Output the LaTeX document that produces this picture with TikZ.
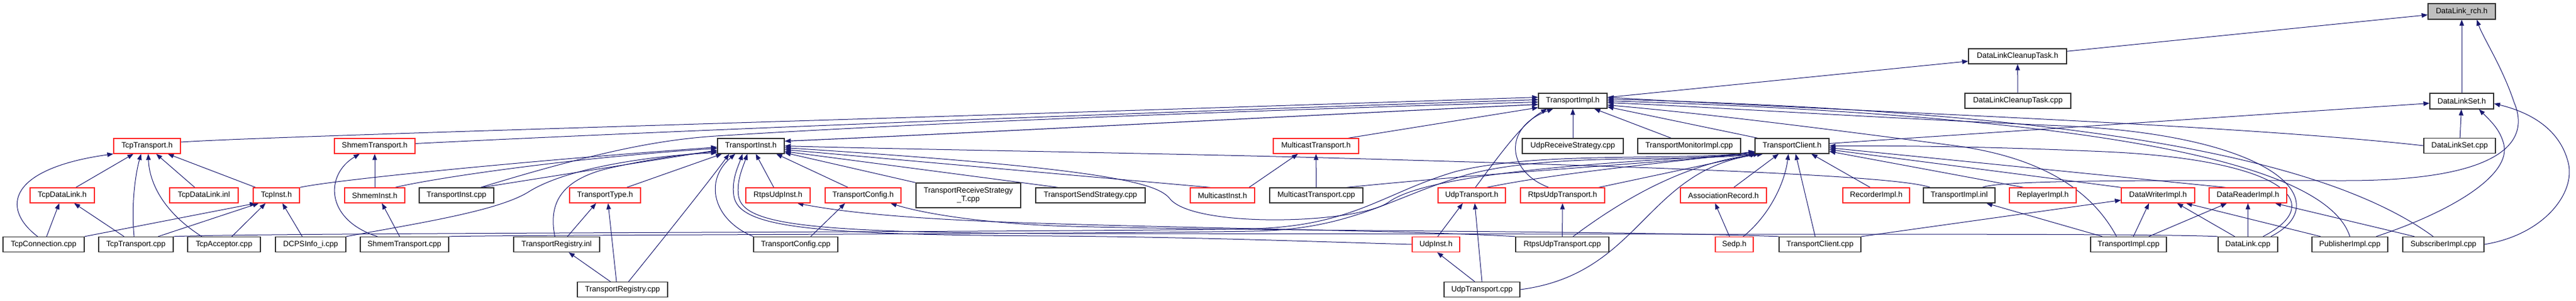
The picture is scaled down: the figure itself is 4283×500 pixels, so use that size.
\documentclass[tikz,border=0pt]{standalone}
\usepackage{fontspec}
\setmainfont{Liberation Sans}
\usetikzlibrary{arrows.meta,calc}
\definecolor{eblue}{RGB}{25,25,112}
\definecolor{bred}{RGB}{255,40,40}
\definecolor{bblk}{RGB}{50,50,50}
\definecolor{gfill}{RGB}{191,191,191}
\pgfdeclarelayer{edges}
\pgfsetlayers{edges,main}
\begin{document}
\begin{tikzpicture}[x=1pt,y=-1pt,
  bx/.style={draw=bblk, line width=1.3pt, fill=white, inner sep=0pt, minimum height=25, font=\fontsize{12.8}{14}\selectfont},
  rbx/.style={bx, draw=bred},
  ed/.style={draw=eblue, line width=1pt, arrows={-Triangle[length=10pt,width=7.5pt]}},
  edd/.style={draw=eblue, line width=1.2pt, arrows={Triangle[length=10pt,width=7.5pt]-Triangle[length=10pt,width=7.5pt]}}]
\useasboundingbox (0,0) rectangle (4283,500);
% rank 0-2
\node[bx, fill=gfill, minimum width=112, minimum height=26] (rch) at (4093,19) {DataLink\_rch.h};
\node[bx, minimum width=163] (dlctH) at (3354.5,93.5) {DataLinkCleanupTask.h};
\node[bx, minimum width=114] (timplH) at (2615,167.5) {TransportImpl.h};
\node[bx, minimum width=176] (dlctCpp) at (3355,167.5) {DataLinkCleanupTask.cpp};
\node[bx, minimum width=106, minimum height=26] (dlsH) at (4093,168) {DataLinkSet.h};
% rank 3
\node[rbx, minimum width=111] (tcpTH) at (244.5,242.5) {TcpTransport.h};
\node[rbx, minimum width=134] (shmTH) at (623,242.5) {ShmemTransport.h};
\node[bx, minimum width=111] (tinstH) at (1248.5,242.5) {TransportInst.h};
\node[rbx, minimum width=142] (mcTH) at (2188,242.5) {MulticastTransport.h};
\node[bx, minimum width=168] (udpRS) at (2615,242.5) {UdpReceiveStrategy.cpp};
\node[bx, minimum width=171] (tmon) at (2808.5,242.5) {TransportMonitorImpl.cpp};
\node[bx, minimum width=123] (tclH) at (2979.5,242.5) {TransportClient.h};
\node[bx, minimum width=119] (dlsCpp) at (4089.5,242) {DataLinkSet.cpp};
% rank 4
\node[rbx, minimum width=107] (tcpDLH) at (103.5,324.5) {TcpDataLink.h};
\node[rbx, minimum width=114] (tcpDLinl) at (339,324.5) {TcpDataLink.inl};
\node[rbx, minimum width=77] (tcpInstH) at (459.5,324.5) {TcpInst.h};
\node[rbx, minimum width=100] (shmInstH) at (623,324.5) {ShmemInst.h};
\node[bx, minimum width=124] (tinstCpp) at (759,324.5) {TransportInst.cpp};
\node[rbx, minimum width=118] (ttypeH) at (1006,324.5) {TransportType.h};
\node[rbx, minimum width=107] (rtpsInstH) at (1293.5,324.5) {RtpsUdpInst.h};
\node[rbx, minimum width=126] (tcfgH) at (1435,324.5) {TransportConfig.h};
\node[bx, minimum width=174, minimum height=41, align=center] (trs) at (1610,324.5) {TransportReceiveStrategy\\\_T.cpp};
\node[bx, minimum width=182] (tss) at (1813,324.5) {TransportSendStrategy.cpp};
\node[rbx, minimum width=107] (mcInstH) at (2032.5,324.5) {MulticastInst.h};
\node[bx, minimum width=155] (mcTCpp) at (2188.5,324.5) {MulticastTransport.cpp};
\node[rbx, minimum width=112] (udpTH) at (2447,324.5) {UdpTransport.h};
\node[rbx, minimum width=140] (rtpsTH) at (2598,324.5) {RtpsUdpTransport.h};
\node[rbx, minimum width=143] (assocH) at (2865.5,324.5) {AssociationRecord.h};
\node[rbx, minimum width=111] (recH) at (3119.5,324.5) {RecorderImpl.h};
\node[bx, minimum width=119] (timplInl) at (3257.5,324.5) {TransportImpl.inl};
\node[rbx, minimum width=111] (repH) at (3396.5,324.5) {ReplayerImpl.h};
\node[rbx, minimum width=122] (dwH) at (3588,324.5) {DataWriterImpl.h};
\node[rbx, minimum width=129] (drH) at (3737.5,324.5) {DataReaderImpl.h};
% rank 5
\node[bx, minimum width=135] (tcpConn) at (72.5,406) {TcpConnection.cpp};
\node[bx, minimum width=124] (tcpTCpp) at (226,406) {TcpTransport.cpp};
\node[bx, minimum width=121] (tcpAcc) at (372.5,406) {TcpAcceptor.cpp};
\node[bx, minimum width=117] (dcps) at (516.5,406) {DCPSInfo\_i.cpp};
\node[bx, minimum width=147] (shmTCpp) at (672.5,406) {ShmemTransport.cpp};
\node[bx, minimum width=143] (tregInl) at (925.5,406) {TransportRegistry.inl};
\node[bx, minimum width=140] (tcfgCpp) at (1323,406) {TransportConfig.cpp};
\node[rbx, minimum width=79] (udpInstH) at (2387.5,406) {UdpInst.h};
\node[bx, minimum width=155] (rtpsTCpp) at (2597.5,406) {RtpsUdpTransport.cpp};
\node[rbx, minimum width=63] (sedpH) at (2883.5,406) {Sedp.h};
\node[bx, minimum width=136] (tclCpp) at (3026,406) {TransportClient.cpp};
\node[bx, minimum width=126] (timplCpp) at (3539,406) {TransportImpl.cpp};
\node[bx, minimum width=99] (dlCpp) at (3737.5,406) {DataLink.cpp};
\node[bx, minimum width=126] (pubCpp) at (3907,406) {PublisherImpl.cpp};
\node[bx, minimum width=135] (subCpp) at (4062.5,406) {SubscriberImpl.cpp};
% rank 6
\node[bx, minimum width=150] (tregCpp) at (1035,481) {TransportRegistry.cpp};
\node[bx, minimum width=126] (udpTCpp) at (2464,481) {UdpTransport.cpp};

\begin{pgfonlayer}{edges}
% top part
\draw[ed] (dlctH) -- (rch);
\draw[ed] (dlsH) -- (rch);
\draw[ed] ($(timplInl.north east)+(-22,0)$) .. controls (3330,298) and (3600,300) .. (3900,300) .. controls (4150,300) and (4210,240) .. (4180,170) .. controls (4160,110) and (4128,62) .. ($(rch.south)+(25,0)$);
\draw[ed] (timplH) -- (dlctH);
\draw[ed] (dlctCpp) -- (dlctH);
\draw[ed] (tclH) -- (dlsH);
\draw[ed] (dlsCpp) -- (dlsH);
\draw[ed] ($(pubCpp.north east)+(-20,0)$) .. controls (4080,350) and (4175,290) .. (4163,240) .. controls (4157,215) and (4140,200) .. ($(dlsH.south east)+(-25,0)$);
\draw[ed] (subCpp.east) .. controls (4230,390) and (4283,320) .. (4270,270) .. controls (4255,210) and (4200,185) .. ($(dlsH.east)+(0,4)$);
% into TransportImpl.h
\draw[ed] ($(tcpTH.east)+(0,-6.5)$) .. controls (450,226) and (1400,200) .. ($(timplH.west)+(0,-6)$);
\draw[ed] ($(shmTH.east)+(0,-4)$) .. controls (900,228) and (1500,200) .. ($(timplH.west)+(0,-2)$);
\draw[ed] ($(tinstCpp.north)+(40,0)$) .. controls (1000,250) and (1100,232) .. (1190,226) .. controls (1600,200) and (2200,180) .. ($(timplH.west)+(0,2)$);
\draw[edd] ($(tinstH.east)+(0,-8)$) .. controls (1600,222) and (2200,190) .. ($(timplH.west)+(0,6)$);
\draw[ed] ($(mcTH.north east)+(-18,0)$) -- ($(timplH.south west)+(0,-2)$);
\draw[ed] (udpRS) -- (timplH);
\draw[ed] ($(tmon.north)+(-30,0)$) -- ($(timplH.south east)+(-22,0)$);
\draw[ed] ($(tclH.north west)+(5,0)$) -- ($(timplH.east)+(0,10)$);
\draw[ed] ($(udpTH.north)+(6,0)$) .. controls (2490,262) and (2530,205) .. ($(timplH.south west)+(15,0)$);
\draw[ed] ($(rtpsTH.north)+(-23,0)$) .. controls (2505,285) and (2498,212) .. ($(timplH.south west)+(25,0)$);
\draw[ed] (dlsCpp.west) .. controls (3700,205) and (3000,182) .. ($(timplH.east)+(0,-6)$);
\draw[ed] ($(subCpp.north)+(-17,0)$) .. controls (3850,250) and (3400,185) .. ($(timplH.east)+(0,-3)$);
\draw[ed] (pubCpp.north) .. controls (3870,280) and (3550,195) .. (timplH.east);
\draw[ed] ($(dlCpp.north east)+(-12,0)$) .. controls (3880,340) and (3800,230) .. (3450,210) .. controls (3100,195) and (2850,178) .. ($(timplH.east)+(0,3)$);
\draw[ed] ($(timplCpp.north)+(-20,0)$) .. controls (3480,320) and (3400,262) .. (3250,242) .. controls (3050,216) and (2850,190) .. ($(timplH.east)+(0,7)$);
% into TransportClient.h
\draw[ed] ($(mcTCpp.north)+(50,0)$) .. controls (2500,285) and (2800,268) .. ($(tclH.west)+(0,11)$);
\draw[ed] ($(udpTH.north)+(25,0)$) .. controls (2600,285) and (2800,268) .. ($(tclH.west)+(0,9)$);
\draw[ed] ($(rtpsTH.north)+(60,0)$) -- ($(tclH.south west)+(3,0)$);
\draw[ed] ($(rtpsTCpp.north)+(18,0)$) .. controls (2700,330) and (2800,272) .. ($(tclH.south west)+(8,0)$);
\draw[ed] (udpTCpp.east) .. controls (2730,455) and (2735,280) .. ($(tclH.south west)+(14,0)$);
\draw[ed] (tcpTCpp.north east) .. controls (450,386) and (1800,386) .. (2080,380) .. controls (2250,376) and (2300,320) .. (2420,285) .. controls (2560,250) and (2800,268) .. ($(tclH.west)+(0,10)$);
\draw[ed] (shmTCpp.north east) .. controls (850,390) and (1800,389) .. (2085,384) .. controls (2245,381) and (2310,330) .. (2430,293) .. controls (2565,252) and (2800,270) .. ($(tclH.south west)+(1,0)$);
\draw[ed] ($(assocH.north east)+(-55,0)$) -- ($(tclH.south west)+(40,0)$);
\draw[ed] ($(sedpH.north)+(15,0)$) .. controls (2945,355) and (2968,300) .. ($(tclH.south)+(-6,0)$);
\draw[ed] ($(tclCpp.north)+(-8,0)$) -- ($(tclH.south)+(6,0)$);
\draw[ed] ($(recH.north)+(-10,0)$) -- ($(tclH.south east)+(-30,0)$);
\draw[ed] ($(repH.north)+(-32,0)$) -- ($(tclH.east)+(0,9)$);
\draw[ed] (dwH.north west) -- ($(tclH.east)+(0,6)$);
\draw[ed] ($(drH.north)+(-37,0)$) -- ($(tclH.east)+(0,3)$);
\draw[ed] ($(dlCpp.north east)+(-25,0)$) .. controls (3875,335) and (3790,265) .. (3500,252) .. controls (3300,243) and (3150,242) .. (tclH.east);
% into TransportInst.h
\draw[ed] ($(tclH.south west)+(6,0)$) .. controls (2700,268) and (2380,285) .. (2310,335) .. controls (2260,372) and (1985,380) .. (1945,330) .. controls (1925,305) and (1850,280) .. ($(tinstH.east)+(0,3)$);
\draw[ed] ($(timplInl.north west)+(12,0)$) .. controls (3150,290) and (2700,276) .. (2200,262) .. controls (1900,254) and (1500,248) .. (tinstH.east);
\draw[ed] ($(mcInstH.north)+(-20,0)$) -- ($(tinstH.east)+(0,6)$);
\draw[ed] ($(tss.north west)+(38,0)$) -- ($(tinstH.east)+(0,9)$);
\draw[ed] (trs.north west) -- ($(tinstH.south east)+(0,-2)$);
\draw[ed] ($(tcfgH.north)+(-25,0)$) -- ($(tinstH.south east)+(-14,0)$);
\draw[ed] ($(rtpsInstH.north)+(-7,0)$) -- ($(tinstH.south)+(8,0)$);
\draw[ed] (tcpInstH.north east) .. controls (560,298) and (900,265) .. ($(tinstH.west)+(0,2)$);
\draw[ed] ($(shmInstH.north)+(34,0)$) .. controls (720,296) and (950,262) .. ($(tinstH.west)+(0,4)$);
\draw[ed] ($(tinstCpp.north)+(42,0)$) -- ($(tinstH.west)+(0,7)$);
\draw[ed] ($(tregInl.north)+(-3,0)$) .. controls (912,340) and (930,300) .. (1010,280) .. controls (1090,262) and (1150,255) .. ($(tinstH.west)+(0,9)$);
\draw[ed] (dcps.north east) .. controls (700,370) and (830,350) .. (880,318) .. controls (950,275) and (1100,258) .. ($(tinstH.west)+(0,11)$);
\draw[ed] ($(ttypeH.north)+(36,0)$) -- ($(tinstH.south west)+(8,0)$);
\draw[ed] ($(tregCpp.north)+(10,0)$) .. controls (1100,400) and (1180,300) .. ($(tinstH.south west)+(20,0)$);
\draw[ed] (tcfgCpp.north west) .. controls (1185,365) and (1170,300) .. ($(tinstH.south west)+(30,0)$);
\draw[ed] (udpInstH.west) .. controls (2200,402) and (2000,394) .. (1750,392) .. controls (1345,390) and (1228,378) .. (1220,325) .. controls (1216,298) and (1228,275) .. ($(tinstH.south)+(-14,0)$);
\draw[ed] (dlCpp.north west) .. controls (3600,389) and (3300,389) .. (2800,389) -- (1750,388) .. controls (1350,386) and (1236,374) .. (1228,326) .. controls (1224,300) and (1236,276) .. ($(tinstH.south)+(-6,0)$);
% config / rtps inst
\draw[ed] ($(tcfgCpp.north)+(25,0)$) -- ($(tcfgH.south)+(-30,0)$);
\draw[ed] (tclCpp.north west) .. controls (2700,383) and (2000,384) .. (1750,375) .. controls (1600,368) and (1520,350) .. ($(tcfgH.south east)+(-18,0)$);
\draw[ed] (rtpsTCpp.north west) .. controls (2350,383) and (2000,380) .. (1700,370) .. controls (1500,363) and (1400,352) .. ($(rtpsInstH.south east)+(-22,0)$);
% registry
\draw[ed] ($(tregCpp.north)+(-20,0)$) -- ($(tregInl.south)+(20,0)$);
\draw[ed] ($(tregCpp.north)+(-10,0)$) -- ($(ttypeH.south)+(5,0)$);
\draw[ed] ($(tregInl.north)+(18,0)$) -- ($(ttypeH.south)+(-15,0)$);
% tcp
\draw[ed] (tcpDLH) -- (tcpTH);
\draw[ed] (tcpDLinl) -- (tcpTH);
\draw[ed] (tcpInstH) -- (tcpTH);
\draw[ed] ($(tcpConn.north)+(-10,0)$) .. controls (0,345) and (15,280) .. (tcpTH.south west);
\draw[ed] ($(tcpTCpp.north)+(-3,0)$) .. controls (218,340) and (225,290) .. ($(tcpTH.south)+(-10,0)$);
\draw[ed] ($(tcpAcc.north)+(-37,0)$) .. controls (268,350) and (248,300) .. ($(tcpTH.south)+(2,0)$);
\draw[ed] ($(tcpConn.north)+(5,0)$) -- (tcpDLH);
\draw[ed] (tcpTCpp) -- (tcpDLH);
\draw[ed] (tcpConn.north east) -- ($(tcpInstH.south west)+(5,0)$);
\draw[ed] ($(tcpTCpp.north)+(37,0)$) -- ($(tcpInstH.south west)+(10,0)$);
\draw[ed] ($(tcpAcc.north)+(13,0)$) -- ($(tcpInstH.south)+(-18,0)$);
\draw[ed] ($(dcps.north)+(-14,0)$) -- ($(tcpInstH.south)+(10,0)$);
% shmem
\draw[ed] (shmInstH) -- (shmTH);
\draw[ed] ($(shmTCpp.north)+(-45,0)$) .. controls (540,365) and (540,290) .. ($(shmTH.south)+(-25,0)$);
\draw[ed] ($(shmTCpp.north)+(-8,0)$) -- ($(shmInstH.south)+(12,0)$);
% udp / multicast / rtps
\draw[ed] ($(udpInstH.north)+(3,0)$) -- ($(udpTH.south)+(-15,0)$);
\draw[ed] ($(udpTCpp.north)+(-12,0)$) -- ($(udpInstH.south)+(2,0)$);
\draw[ed] (udpTCpp.north) -- ($(udpTH.south)+(5,0)$);
\draw[ed] (rtpsTCpp) -- (rtpsTH);
\draw[ed] ($(mcInstH.north east)+(-10,0)$) -- ($(mcTH.south)+(-30,0)$);
\draw[ed] (mcTCpp) -- (mcTH);
% writer / reader side
\draw[ed] ($(timplCpp.north west)+(20,0)$) -- ($(timplInl.south east)+(-15,0)$);
\draw[ed] ($(timplCpp.north)+(8,0)$) -- ($(dwH.south)+(-15,0)$);
\draw[ed] ($(timplCpp.north east)+(-30,0)$) -- ($(drH.south)+(-35,0)$);
\draw[ed] ($(dlCpp.north)+(-22,0)$) -- ($(dwH.south east)+(-30,0)$);
\draw[ed] (dlCpp) -- (drH);
\draw[ed] ($(pubCpp.north west)+(15,0)$) -- ($(dwH.south east)+(-15,0)$);
\draw[ed] ($(subCpp.north west)+(20,0)$) -- ($(drH.south east)+(-20,0)$);
\draw[ed] (tclCpp.north east) -- ($(dwH.west)+(0,8)$);
\draw[ed] ($(sedpH.north)+(-8,0)$) -- ($(assocH.south)+(-14,0)$);
\end{pgfonlayer}
\end{tikzpicture}
\end{document}
